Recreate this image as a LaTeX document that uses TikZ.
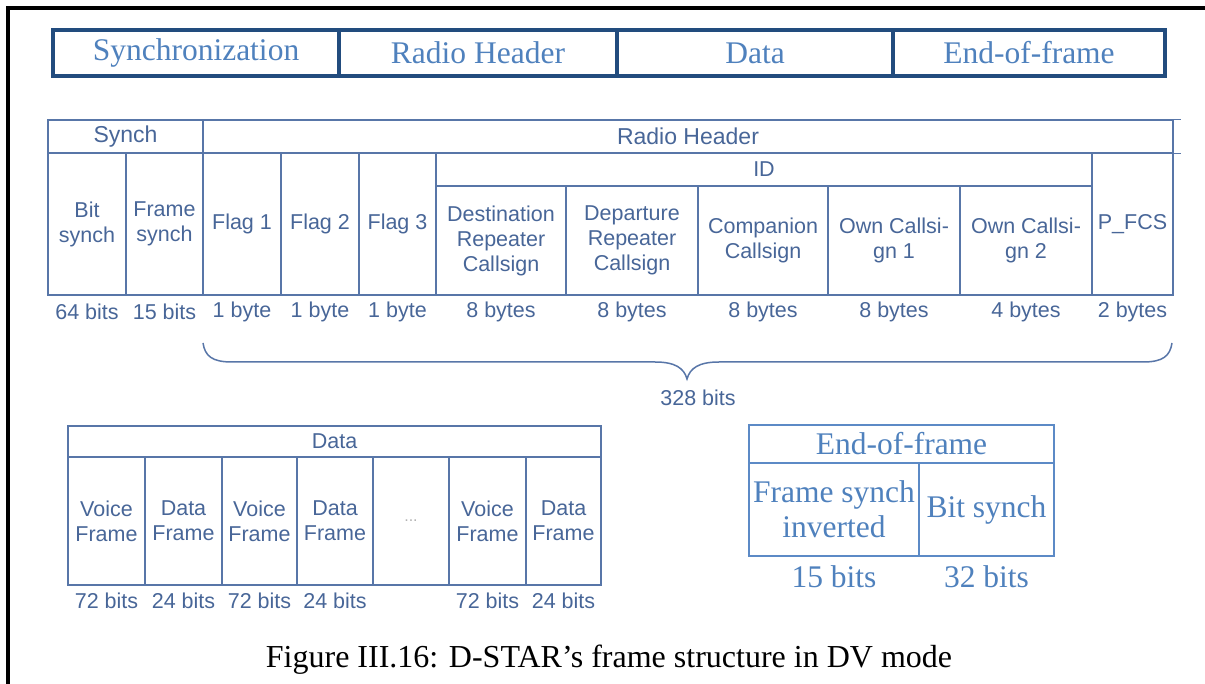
\documentclass[tikz,border=0pt]{standalone}
\usepackage{fontspec}
\setmainfont{Liberation Serif}
\newfontfamily\arialf{Liberation Sans}
\definecolor{barline}{RGB}{34,76,126}
\definecolor{bartext}{RGB}{79,129,189}
\definecolor{gline}{RGB}{88,118,168}
\definecolor{gtext}{RGB}{72,102,152}
\definecolor{eline}{RGB}{92,138,198}
\definecolor{etext}{RGB}{79,129,189}
\tikzset{
  barcell/.style={draw=barline, line width=4pt, rectangle, inner sep=0pt, minimum height=46pt,
    text=bartext, font=\fontsize{31.5}{36}\selectfont},
  ghead/.style={draw=gline, line width=1.4pt, rectangle, inner sep=0pt,
    text=gtext, font=\arialf\fontsize{23}{27}\selectfont},
  gcell/.style={draw=gline, line width=1.4pt, rectangle, inner sep=0pt, align=center,
    text=gtext, font=\arialf\fontsize{21.5}{25}\selectfont},
  glabel/.style={inner sep=0pt, text=gtext, font=\arialf\fontsize{21.5}{25}\selectfont},
  ecell/.style={draw=eline, line width=2pt, rectangle, inner sep=0pt, align=center,
    text=etext, font=\fontsize{31.5}{35}\selectfont},
  elabel/.style={inner sep=0pt, text=etext, font=\fontsize{31.5}{35}\selectfont},
  bracepath/.style={draw=gline, line width=1.5pt},
}
\begin{document}
\begin{tikzpicture}[x=1pt,y=-1pt]
\useasboundingbox (0,0) rectangle (1205,684);
\fill[white] (0,0) rectangle (1205,684);

% page frame
\draw[line width=4pt, black] (8,684) -- (8,8) -- (1205,8);

% overview bar
\node[barcell, minimum width=286pt] (sync) at (196,53) {Synchronization};
\node[barcell, minimum width=278pt] (rhead) at (478,53) {Radio Header};
\node[barcell, minimum width=276pt] (data) at (755,53) {Data};
\node[barcell, minimum width=272pt] (eof) at (1029,53) {End-of-frame};

% radio header table
\node[ghead, minimum width=155pt, minimum height=33pt] (hsynch) at (125.5,136.5) {Synch};
\node[ghead, minimum width=970pt, minimum height=33pt] (hradio) at (688,136.5) {Radio Header};
\draw[draw=gline, line width=1.4pt] (hradio.north east) -- ++(7,0);
\draw[draw=gline, line width=1.4pt] (hradio.south east) -- ++(7,0);

\node[gcell, minimum width=78pt, minimum height=142pt] (bitsynch) at (87,224) {Bit\\synch};
\node[gcell, minimum width=77pt, minimum height=142pt] (framesynch) at (164.5,224) {Frame\\synch};
\node[gcell, minimum width=78pt, minimum height=142pt] (flagA) at (242,224) {Flag 1};
\node[gcell, minimum width=78pt, minimum height=142pt] (flagB) at (320,224) {Flag 2};
\node[gcell, minimum width=77pt, minimum height=142pt] (flagC) at (397.5,224) {Flag 3};
\node[gcell, minimum width=656pt, minimum height=33pt] (idhead) at (764,169.5) {ID};
\node[gcell, minimum width=130pt, minimum height=109pt] (dest) at (501,240.5) {Destination\\Repeater\\Callsign};
\node[gcell, minimum width=132pt, minimum height=109pt] (dep) at (632,240.5) {Departure\\Repeater\\Callsign};
\node[gcell, minimum width=130pt, minimum height=109pt] (comp) at (763,240.5) {Companion\\Callsign};
\node[gcell, minimum width=132pt, minimum height=109pt] (ownA) at (894,240.5) {Own Callsi-\\gn 1};
\node[gcell, minimum width=132pt, minimum height=109pt] (ownB) at (1026,240.5) {Own Callsi-\\gn 2};
\node[gcell, minimum width=81pt, minimum height=142pt] (pfcs) at (1132.5,224) {P\_FCS};

\node[glabel] (lbitsynch) at (87,312) {64 bits};
\node[glabel] (lframesynch) at (164.5,312) {15 bits};
\node[glabel] (lflagA) at (242,312) {1 byte};
\node[glabel] (lflagB) at (320,312) {1 byte};
\node[glabel] (lflagC) at (397.5,312) {1 byte};
\node[glabel] (ldest) at (501,312) {8 bytes};
\node[glabel] (ldep) at (632,312) {8 bytes};
\node[glabel] (lcomp) at (763,312) {8 bytes};
\node[glabel] (lownA) at (894,312) {8 bytes};
\node[glabel] (lownB) at (1026,312) {4 bytes};
\node[glabel] (lpfcs) at (1132.5,312) {2 bytes};

% brace under the radio header
\coordinate (braceL) at (203,343);
\coordinate (braceR) at (1172,343);
\coordinate (braceT) at (687,379);
\draw[bracepath] (braceL) .. controls (205,356) and (212,362) .. (232,362) -- (655,362)
  .. controls (675,362) and (684,368) .. (braceT)
  .. controls (690,368) and (699,362) .. (719,362) -- (1143,362)
  .. controls (1163,362) and (1170,356) .. (braceR);
\node[glabel] (ltotal) at (698,398) {328 bits};

% data table
\node[ghead, minimum width=533pt, minimum height=31pt, font=\arialf\fontsize{21.5}{25}\selectfont] (hdata) at (334.5,441.5) {Data};
\node[gcell, minimum width=77pt, minimum height=128pt] (vA) at (106.5,521) {Voice\\Frame};
\node[gcell, minimum width=77pt, minimum height=128pt] (dA) at (183.5,521) {Data\\Frame};
\node[gcell, minimum width=75pt, minimum height=128pt] (vB) at (259.5,521) {Voice\\Frame};
\node[gcell, minimum width=76pt, minimum height=128pt] (dB) at (335,521) {Data\\Frame};
\node[gcell, minimum width=76pt, minimum height=128pt, text=gray!60, font=\arialf\fontsize{16}{18}\selectfont] (dots) at (411,521) {...};
\node[gcell, minimum width=77pt, minimum height=128pt] (vC) at (487.5,521) {Voice\\Frame};
\node[gcell, minimum width=75pt, minimum height=128pt] (dC) at (563.5,521) {Data\\Frame};

\node[glabel] (lvA) at (106.5,601) {72 bits};
\node[glabel] (ldA) at (183.5,601) {24 bits};
\node[glabel] (lvB) at (259.5,601) {72 bits};
\node[glabel] (ldB) at (335,601) {24 bits};
\node[glabel] (lvC) at (487.5,601) {72 bits};
\node[glabel] (ldC) at (563.5,601) {24 bits};

% end-of-frame table
\node[ecell, minimum width=305pt, minimum height=38pt] (heof) at (901.5,444) {End-of-frame};
\node[ecell, minimum width=170pt, minimum height=93pt] (fsinv) at (834,509.5) {Frame synch\\inverted};
\node[ecell, minimum width=135pt, minimum height=93pt] (bsync) at (986.5,509.5) {Bit synch};
\node[elabel] (lfsinv) at (834,577) {15 bits};
\node[elabel] (lbsync) at (986.5,577) {32 bits};

% caption
\node[inner sep=0pt, font=\fontsize{32}{37}\selectfont] (caption) at (609,660) {Figure III.16: D-STAR’s frame structure in DV mode};
\end{tikzpicture}
\end{document}
